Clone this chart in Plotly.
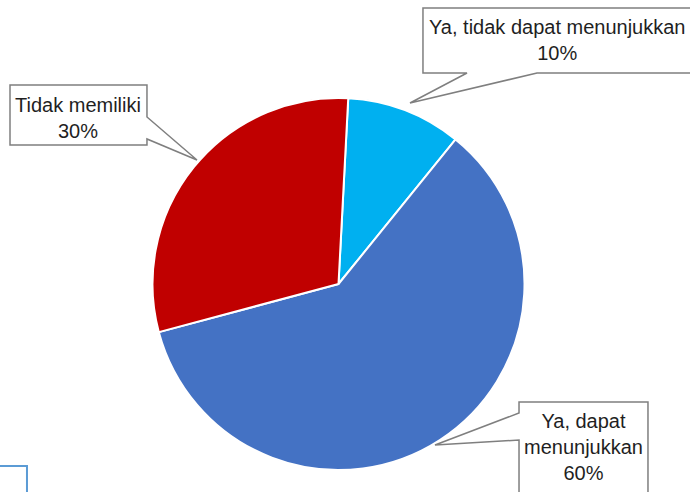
import plotly.graph_objects as go

W, H = 690, 492

labels = ["Ya, tidak dapat menunjukkan", "Ya, dapat menunjukkan", "Tidak memiliki"]
values = [10, 60, 30]
colors = ["#00B0F0", "#4472C4", "#C00000"]


def px(x, y):
    # pixel position (from top-left) -> paper coords
    return x / W, 1 - y / H


def path(points, close=True):
    pts = [px(x, y) for x, y in points]
    s = "M " + " L ".join(f"{a:.4f},{b:.4f}" for a, b in pts)
    return s + " Z" if close else s


cx, cy, r = 338.5, 284, 186
x0, y1 = px(cx - r, cy - r)
x1, y0 = px(cx + r, cy + r)

fig = go.Figure(
    go.Pie(
        labels=labels,
        values=values,
        marker=dict(colors=colors, line=dict(color="white", width=2)),
        sort=False,
        direction="clockwise",
        rotation=3,
        textinfo="none",
        hoverinfo="label+percent",
        domain=dict(x=[x0, x1], y=[y0, y1]),
        showlegend=False,
    )
)

# callout boxes (outline incl. the pointer wedge), in pixel coords
callouts = [
    [(10, 85), (147, 85), (147, 117), (197, 160), (147, 139), (147, 145), (10, 145)],
    [(423, 8), (700, 8), (700, 73), (537, 73), (410, 103), (467, 73), (423, 73)],
    [(519, 402), (648, 402), (648, 510), (519, 510), (519, 440), (435, 445), (519, 413)],
]
shapes = [
    dict(type="path", xref="paper", yref="paper", path=path(c),
         fillcolor="white", line=dict(color="#7F7F7F", width=1.5))
    for c in callouts
]
# stray selection outline at bottom-left
shapes.append(dict(type="path", xref="paper", yref="paper",
                   path=path([(-2, 466), (27, 466), (27, 495)], close=False),
                   line=dict(color="#5B9BD5", width=2)))

texts = [
    ("Tidak memiliki<br>30%", 78, 118),
    ("Ya, tidak dapat menunjukkan<br>10%", 557, 40),
    ("Ya, dapat<br>menunjukkan<br>60%", 583, 447),
]
annotations = []
for t, x, y in texts:
    ax, ay = px(x, y)
    annotations.append(dict(text=t, x=ax, y=ay, xref="paper", yref="paper",
                            xanchor="center", yanchor="middle", showarrow=False,
                            align="center",
                            font=dict(family="Liberation Sans, Arial", size=20,
                                      color="#1F1F1F")))

fig.update_layout(
    width=W, height=H,
    margin=dict(l=0, r=0, t=0, b=0),
    paper_bgcolor="white",
    plot_bgcolor="white",
    shapes=shapes,
    annotations=annotations,
)

fig.write_html("out.html", config={"displayModeBar": False},
               post_script="document.body.style.margin='0';")
